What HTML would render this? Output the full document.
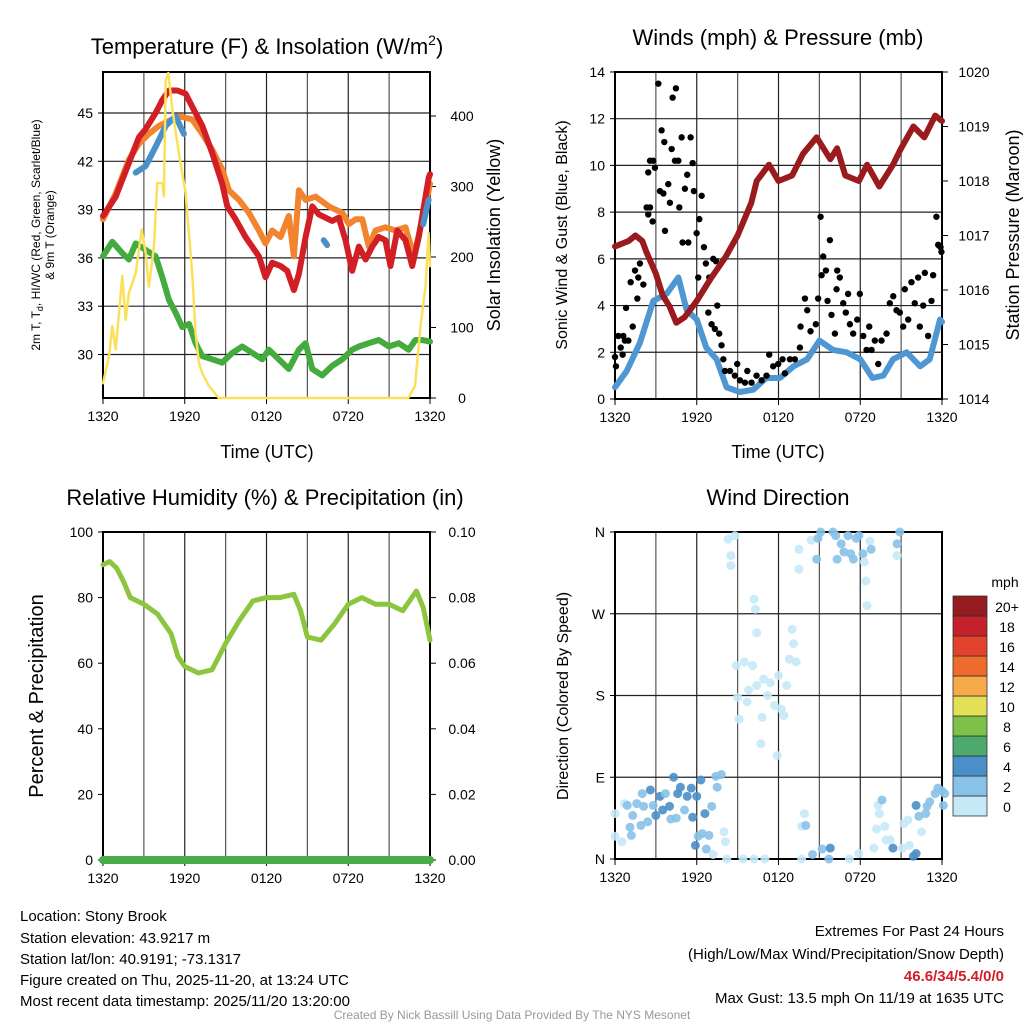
<!DOCTYPE html>
<html><head><meta charset="utf-8"><style>
body{margin:0;background:#fff;}
svg{display:block;font-family:"Liberation Sans",sans-serif;}
</style></head><body>
<svg id="s" width="1024" height="1024" viewBox="0 0 1024 1024" xmlns="http://www.w3.org/2000/svg">
<rect width="1024" height="1024" fill="#fff"/>
<g id="g"></g>
<text x="267" y="54" font-size="22" text-anchor="middle">Temperature (F) &amp; Insolation (W/m<tspan font-size="14" dy="-9">2</tspan><tspan dy="9">)</tspan></text>
<text x="778" y="45" font-size="22" text-anchor="middle">Winds (mph) &amp; Pressure (mb)</text>
<text x="265" y="505" font-size="22" text-anchor="middle">Relative Humidity (%) &amp; Precipitation (in)</text>
<text x="778" y="505" font-size="22" text-anchor="middle">Wind Direction</text>
<text transform="translate(40,235) rotate(-90)" font-size="12" text-anchor="middle">2m T, T<tspan font-size="9" dy="3">d</tspan><tspan dy="-3">, HI/WC (Red, Green, Scarlet/Blue)</tspan></text>
<text transform="translate(54,235) rotate(-90)" font-size="12" text-anchor="middle">&amp; 9m T (Orange)</text>
<text transform="translate(500,235) rotate(-90)" font-size="18" text-anchor="middle">Solar Insolation (Yellow)</text>
<text transform="translate(567,235) rotate(-90)" font-size="16" text-anchor="middle">Sonic Wind &amp; Gust (Blue, Black)</text>
<text transform="translate(1019,235) rotate(-90)" font-size="18" text-anchor="middle">Station Pressure (Maroon)</text>
<text transform="translate(43,696) rotate(-90)" font-size="20" text-anchor="middle">Percent &amp; Precipitation</text>
<text transform="translate(568,696) rotate(-90)" font-size="16" text-anchor="middle">Direction (Colored By Speed)</text>
<text x="267" y="458" font-size="18" text-anchor="middle">Time (UTC)</text>
<text x="778" y="458" font-size="18" text-anchor="middle">Time (UTC)</text>
<text x="1005" y="587" font-size="14" text-anchor="middle">mph</text>
<g font-size="15">
<text x="20" y="921">Location: Stony Brook</text>
<text x="20" y="943">Station elevation: 43.9217 m</text>
<text x="20" y="964">Station lat/lon: 40.9191; -73.1317</text>
<text x="20" y="985">Figure created on Thu, 2025-11-20, at 13:24 UTC</text>
<text x="20" y="1006">Most recent data timestamp: 2025/11/20 13:20:00</text>
</g>
<g font-size="15" text-anchor="end">
<text x="1004" y="936">Extremes For Past 24 Hours</text>
<text x="1004" y="959">(High/Low/Max Wind/Precipitation/Snow Depth)</text>
<text x="1004" y="981" fill="#d0202a" font-weight="bold">46.6/34/5.4/0/0</text>
<text x="1004" y="1003">Max Gust: 13.5 mph On 11/19 at 1635 UTC</text>
</g>
<text x="512" y="1019" font-size="12" fill="#999" text-anchor="middle">Created By Nick Bassill Using Data Provided By The NYS Mesonet</text>
</svg>
<script>
const xTicks=["1320","1920","0120","0720","1320"];
const tempT=[0,0.93,1.9,2.64,3.13,3.86,4.35,4.84,5.45,6.06,6.55,7.29,8.02,8.75,9.12,9.73,10.46,11.44,11.93,12.42,13.03,13.52,14.01,14.38,14.87,15.36,15.84,16.33,16.82,17.31,17.8,18.29,18.78,19.27,19.76,20.24,20.73,21.1,21.59,22.2,22.69,23.18,23.55,23.91,24];
const tempV=[38.6,39.8,41.9,43.5,44.0,45.0,45.8,46.4,46.4,46.2,45.4,44.2,42.5,40.6,39.2,38.4,37.3,36.1,34.8,35.7,35.5,35.2,34.0,35.0,37.3,39.2,38.7,38.5,38.3,38.5,37.1,35.2,36.7,35.9,36.7,37.3,37.1,35.5,37.7,37.1,35.5,37.3,39.2,41.0,41.2];
const t9T=[0,0.93,1.9,2.64,3.37,4.1,4.84,5.57,6.55,7.29,8.02,8.75,9.24,9.98,10.71,11.44,11.93,12.42,13.03,13.64,14.01,14.38,14.87,15.6,16.58,17.56,18.05,18.54,19.03,19.51,20.0,20.73,21.47,22.2,22.81,23.3,23.67,24];
const t9V=[38.4,40.0,42.1,43.1,43.7,44.2,44.5,44.8,44.6,43.7,42.7,41.5,40.2,39.6,38.8,37.7,36.9,37.7,37.3,38.6,36.1,40.2,39.6,39.8,39.2,38.8,38.1,38.4,38.4,36.7,37.7,37.9,37.7,37.9,36.1,37.9,39.2,40.6];
const hiT=[2.4,3.13,3.86,4.6,5.33,5.94,null,16.2,16.45,null,23.5,23.9];
const hiV=[41.3,41.7,42.9,44.2,44.8,43.7,null,37.1,36.8,null,38.1,39.6];
const dewT=[0,0.68,1.42,1.9,2.4,3.13,3.86,4.35,4.84,5.33,5.82,6.31,6.8,7.29,8.02,8.75,9.49,10.22,10.95,11.69,12.17,12.9,13.64,14.38,14.87,15.36,16.09,16.82,17.56,18.29,18.78,19.51,20.24,20.98,21.71,22.44,22.93,23.42,24];
const dewV=[36.1,37.0,36.3,35.9,36.9,36.5,36.1,34.8,33.4,32.6,31.7,31.9,30.7,29.9,29.7,29.5,30.1,30.5,30.1,29.7,30.3,29.7,29.1,30.3,30.7,29.1,28.7,29.3,29.7,30.3,30.5,30.7,30.9,30.5,30.7,30.3,30.9,30.9,30.8];
const solT=[0,0.44,0.68,0.93,1.42,1.66,1.9,2.4,2.84,3.13,3.37,3.74,3.98,4.35,4.47,4.6,4.79,5.09,5.57,6.06,6.55,6.8,7.04,7.29,7.78,8.5,22.4,22.9,23.3,23.67,23.9,24];
const solV=[21,59,102,69,173,111,149,177,239,206,158,215,305,305,286,451,461,409,347,291,177,92,50,35,17,0,0,17,102,158,234,187];
const windT=[0,0.86,1.83,2.81,3.79,4.65,5.26,6.0,6.7,7.46,8.19,9.17,10.15,11.1,12.1,13.1,14.1,15.0,16.0,17.0,18.0,18.9,19.7,20.4,21.4,22.4,23.1,23.85,24];
const windV=[0.5,1.2,2.4,4.2,4.5,5.2,3.8,3.4,2.2,1.7,0.5,0.3,0.4,0.9,0.9,1.4,1.7,2.5,2.1,2.0,1.7,0.9,1.0,1.7,2.0,1.4,1.7,3.4,3.3];
const gustT=[0,0.07,0.24,0.42,0.61,0.73,0.56,0.81,0.98,1.15,1.3,1.47,1.64,1.71,1.83,2.08,2.32,2.44,2.57,2.76,2.44,2.57,2.81,2.93,3.18,3.3,3.42,3.55,3.67,3.62,3.91,4.03,4.16,4.23,4.4,4.47,4.65,4.72,4.89,4.96,5.13,5.3,5.38,5.55,5.7,5.79,5.99,6.11,6.19,6.36,6.53,6.67,6.92,7.21,7.41,7.51,6.85,7.09,7.33,7.65,7.82,7.95,8.07,8.44,8.8,8.97,9.17,9.54,9.71,10.02,10.39,10.76,11.12,11.32,11.61,11.98,12.3,12.47,12.84,13.2,13.57,13.62,13.94,14.11,14.35,14.74,14.91,15.09,15.16,15.28,15.48,15.6,15.77,15.89,16.14,16.26,16.31,16.5,16.75,16.94,17.11,17.24,17.48,17.78,17.97,18.22,18.46,18.66,18.83,19.07,19.32,19.56,19.93,20.17,20.42,20.66,20.9,21.15,21.27,21.52,21.76,22.0,22.25,22.37,22.62,22.74,22.98,23.23,23.35,23.59,23.72,23.89,23.96];
const gustV=[1.8,1.4,2.7,2.2,2.7,2.5,1.9,3.9,2.5,5.0,3.1,5.5,4.3,5.2,5.8,4.9,8.2,7.9,8.2,7.6,9.7,10.2,10.2,9.9,13.5,8.9,11.5,8.8,7.2,11.0,9.2,8.4,10.7,12.9,10.2,13.3,10.2,8.2,11.2,6.7,9.0,9.6,6.7,11.2,10.1,8.9,7.1,5.2,7.7,8.7,6.5,5.8,5.2,6.0,5.9,4.0,3.7,3.2,3.0,2.8,2.3,1.7,1.2,1.2,1.0,1.5,0.8,0.7,1.2,0.7,1.0,0.8,1.0,1.9,1.4,1.5,1.7,1.1,1.7,1.7,2.2,3.1,4.3,3.8,2.9,3.2,4.3,7.8,5.3,6.1,5.5,4.2,6.8,3.6,2.8,4.7,5.5,5.2,4.1,3.7,4.5,3.2,2.8,3.4,4.5,2.7,2.1,3.1,2.1,2.5,1.5,2.5,2.8,4.1,4.4,3.8,3.7,3.1,4.7,3.4,5.0,4.1,5.2,3.1,4.0,5.4,2.7,4.2,5.3,7.8,6.6,6.5,6.3];
const presT=[0,1.0,1.5,2.0,2.3,3.0,3.5,4.0,4.5,5.1,6.0,7.0,8.1,9.0,10.0,10.4,11.3,12.0,13.0,13.8,14.8,15.8,16.3,16.9,17.9,18.5,19.4,20.4,21.0,21.9,22.7,23.5,24];
const presV=[1016.8,1016.9,1017.0,1016.9,1016.7,1016.3,1015.9,1015.7,1015.4,1015.5,1015.8,1016.2,1016.6,1017.0,1017.6,1018.0,1018.3,1018.0,1018.1,1018.5,1018.8,1018.4,1018.6,1018.1,1018.0,1018.3,1017.9,1018.3,1018.6,1019.0,1018.8,1019.2,1019.1];
const rhT=[0,0.5,1,1.5,2,3,4,5,5.5,6,7,8,9,10,11,12,13,14,14.5,15,16,17,18,19,20,21,22,23,23.5,24];
const rhV=[90,91,89,85,80,78,75,69,62,59,57,58,66,73,79,80,80,81,76,68,67,72,78,80,78,78,76,82,77,67];
const precipT=[0,24];
const precipV=[0,0];
const dirT=[0,0,0.5,0.7,0.9,1.1,1.2,1.3,1.6,1.9,2,2.1,2.4,2.6,2.8,3,3.3,3.5,3.7,4,4.1,4.3,4.5,4.6,4.8,5.1,5.3,5.6,5.7,5.9,6,6.1,6.3,6.4,6.6,6.7,6.9,7.1,7.2,7.4,7.5,7.8,8,8.1,8.2,8.3,8.5,8.5,8.8,8.9,9,9.1,9.4,9.5,9.7,9.8,10.1,10.2,10.3,10.2,10.4,10.4,10.7,10.8,10.9,11,11.2,11.4,11.7,11.9,12,12.2,12.4,12.6,12.8,13,13.1,13.3,13.5,13.5,13.7,13.7,13.9,14,14.4,14.5,14.8,14.9,15.2,15.1,15.7,15.8,16,16.2,16.3,16.6,16.8,17.1,17.2,17.3,17.5,17.7,17.9,17.9,18.2,18.3,18.4,18.5,18.7,18.8,19,19.2,19.3,19.4,19.6,19.8,19.9,20.2,20.4,20.7,20.7,20.9,21.1,21.2,21.5,21.6,21.9,22.1,22.1,22.3,22.5,22.8,22.9,23.1,23.5,23.7,24,24.1,24.2];
const dirV=[25,50,19,61,59,35,26,48,61,37,72,58,41,76,59,48,69,54,72,58,44,90,45,72,79,54,69,78,46,15,69,25,87,28,50,11,26,58,5,91,79,93,30,19,0,352,334,323,356,213,178,154,0,217,173,186,213,286,275,0,249,191,127,156,198,0,180,194,169,114,202,165,158,191,220,253,237,217,319,341,0,36,50,37,351,5,330,353,11,360,0,12,360,356,330,347,338,356,0,336,330,353,356,6,336,327,306,279,350,341,12,33,59,50,65,36,21,21,12,347,334,360,12,39,43,15,3,6,59,47,30,50,58,63,72,78,75,59,72];
const dirS=[0,0,0,1,2,2,3,2,2,3,2,2,3,4,3,4,4,4,3,4,2,5,2,4,5,3,4,4,4,4,4,3,4,3,4,3,3,3,0,3,2,3,0,0,0,0,0,0,0,0,0,0,0,0,0,0,0,0,0,0,0,0,0,0,0,0,0,0,0,0,0,0,0,0,0,0,0,0,0,0,0,0,0,2,0,3,3,2,3,2,3,4,2,2,2,2,2,2,0,2,2,2,2,0,2,0,0,0,0,3,0,0,0,0,2,0,0,0,4,2,0,2,0,0,0,0,4,4,4,2,0,2,3,3,2,3,3,3,2];
const cbLabels=["0","2","4","6","8","10","12","14","16","18","20+"];
const cbColors=["#c6e9f8","#88c2e9","#4a8fc8","#4caa6c","#7dc14b","#e3df57","#f6aa4a","#ef6b2d","#e2412c","#c4212b","#951b1e"];

const NS="http://www.w3.org/2000/svg";
const G=document.getElementById('g');
function mk(tag,attrs,parent){const e=document.createElementNS(NS,tag);for(const k in attrs)e.setAttribute(k,attrs[k]);(parent||G).appendChild(e);return e;}
const W=327;
function xs(x0,t){return x0+t/24*W;}
function panel(x0,y0,h,name,yTicks,ySc,yLab,rTicks,rSc,rLab,hGrid){
  const g=mk('g',{});
  
  
  for(let i=1;i<8;i++){const x=x0+i*W/8;const l=mk('line',{x1:x,x2:x,y1:y0,y2:y0+h,stroke:i%2?'#555':'#222','stroke-width':1.2},g);
    }
  yTicks.forEach((v,i)=>{const y=ySc(v);
    if(hGrid){const l=mk('line',{x1:x0,x2:x0+W,y1:y,y2:y,stroke:'#222','stroke-width':1.2},g);}
    const tk=mk('line',{x1:x0-5,x2:x0,y1:y,y2:y,stroke:'#000'},g);
    const t=mk('text',{x:x0-10,y:y+5,'font-size':14,'text-anchor':'end'},g);t.textContent=yLab[i];});
  if(rTicks)rTicks.forEach((v,i)=>{const y=rSc(v);
    const tk=mk('line',{x1:x0+W,x2:x0+W+6,y1:y,y2:y,stroke:'#000'},g);
    const t=mk('text',{x:x0+W+32,y:y+5,'font-size':14,'text-anchor':'middle'},g);t.textContent=rLab[i];});
  xTicks.forEach((s,i)=>{const x=xs(x0,i*6);
    const tk=mk('line',{x1:x,x2:x,y1:y0+h,y2:y0+h+6,stroke:'#000'},g);
    const t=mk('text',{x:x,y:y0+h+23,'font-size':14,'text-anchor':'middle'},g);t.textContent=s;});
  const r=mk('rect',{x:x0,y:y0,width:W,height:h,fill:'none',stroke:'#000','stroke-width':2},g);
  
  return g;
}
function line(x0,T,V,ySc,color,w,name){
  let d='',pen=false;
  T.forEach((t,i)=>{if(t===null||V[i]===null){pen=false;return;}d+=(pen?'L':'M')+xs(x0,t).toFixed(1)+','+ySc(V[i]).toFixed(1);pen=true;});
  const p=mk('path',{d:d,fill:'none',stroke:color,'stroke-width':w,'stroke-linejoin':'round','stroke-linecap':'round'});
  
  
  return p;
}
// Panel 1
const p1x=103,p1y=72,p1h=326;
const tSc=v=>113+(45-v)*16.1;
const sSc=v=>398-v*0.705;
panel(p1x,p1y,p1h,'temperature-panel',[30,33,36,39,42,45],tSc,["30","33","36","39","42","45"],[0,100,200,300,400],sSc,["0","100","200","300","400"],true);
line(p1x,dewT,dewV,tSc,'#44ab3f',6,'dewpoint-line');
line(p1x,t9T,t9V,tSc,'#f2832f',6,'temp-9m-line');
line(p1x,tempT,tempV,tSc,'#d21f26',6,'temp-2m-line');
line(p1x,hiT,hiV,tSc,'#4b91c9',6,'heat-index-line');
line(p1x,solT,solV,sSc,'#fbe15a',2.5,'insolation-line');
// Panel 2
const p2x=615,p2y=72,p2h=327;
const wSc=v=>399-v*23.36;
const pSc=v=>399-(v-1014)*54.5;
panel(p2x,p2y,p2h,'winds-panel',[0,2,4,6,8,10,12,14],wSc,["0","2","4","6","8","10","12","14"],[1014,1015,1016,1017,1018,1019,1020],pSc,["1014","1015","1016","1017","1018","1019","1020"],true);
line(p2x,windT,windV,wSc,'#4f97d2',6,'sonic-wind-line');
gustT.forEach((t,i)=>{const c=mk('circle',{cx:xs(p2x,t),cy:wSc(gustV[i]),r:3.2,fill:'#000'});
  
  });
line(p2x,presT,presV,pSc,'#991b1e',6,'pressure-line');
// Panel 3
const p3x=103,p3y=532,p3h=328;
const hSc=v=>860-v*3.28;
const prSc=v=>860-v*3280;
panel(p3x,p3y,p3h,'humidity-panel',[0,20,40,60,80,100],hSc,["0","20","40","60","80","100"],[0,0.02,0.04,0.06,0.08,0.1],prSc,["0.00","0.02","0.04","0.06","0.08","0.10"],false);
line(p3x,rhT,rhV,hSc,'#8cc63f',5,'humidity-line');
line(p3x,precipT,precipV,prSc,'#4aad4a',8,'precipitation-line');
// Panel 4
const p4x=615,p4y=532,p4h=327;
const dSc=v=>859-v/360*327;
panel(p4x,p4y,p4h,'wind-direction-panel',[0,90,180,270,360],dSc,["N","E","S","W","N"],null,null,null,true);
dirT.forEach((t,i)=>{const c=mk('circle',{cx:xs(p4x,t),cy:dSc(dirV[i]),r:4.5,fill:cbColors[Math.min(10,Math.floor(dirS[i]/2))],'fill-opacity':0.9});
  
  });
// Colorbar
cbLabels.forEach((s,i)=>{const y=796-i*20;
  const r=mk('rect',{x:953,y:y,width:34,height:20,fill:cbColors[i],stroke:'#333','stroke-width':0.8});
  
  
  const t=mk('text',{x:1007,y:y+16,'font-size':14,'text-anchor':'middle'});t.textContent=s;
  
  });
</script>
</body></html>
